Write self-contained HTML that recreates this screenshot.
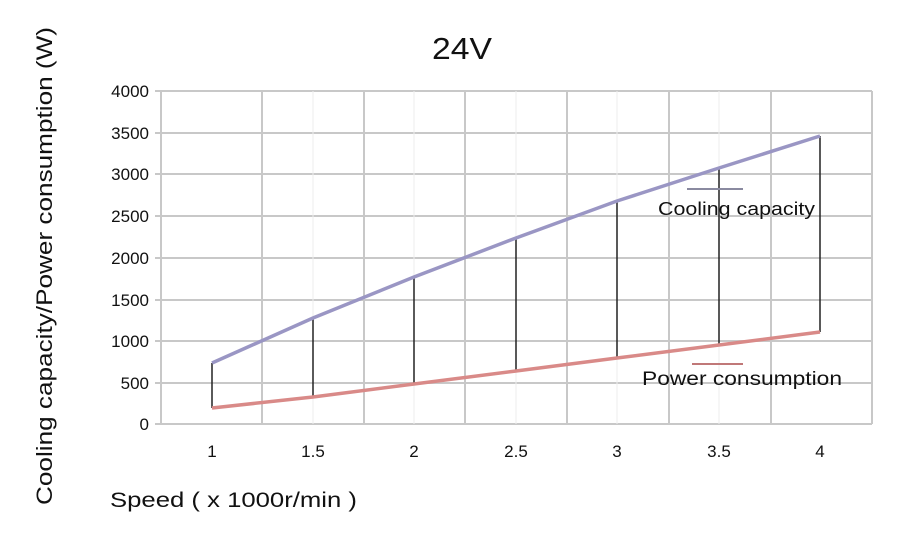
<!DOCTYPE html>
<html><head><style>body{margin:0;background:#fff}svg{display:block}</style></head><body>
<svg width="900" height="541" xmlns="http://www.w3.org/2000/svg" font-family="Liberation Sans, sans-serif">
<rect width="900" height="541" fill="#fff"/>
<g stroke="#c8c8c8" stroke-width="2">
<line x1="155" y1="91" x2="872" y2="91"/><line x1="155" y1="133" x2="872" y2="133"/><line x1="155" y1="174" x2="872" y2="174"/><line x1="155" y1="216" x2="872" y2="216"/><line x1="155" y1="258" x2="872" y2="258"/><line x1="155" y1="300" x2="872" y2="300"/><line x1="155" y1="341" x2="872" y2="341"/><line x1="155" y1="383" x2="872" y2="383"/><line x1="155" y1="424" x2="872" y2="424"/>
<line x1="161" y1="91" x2="161" y2="424"/><line x1="262" y1="91" x2="262" y2="424"/><line x1="364" y1="91" x2="364" y2="424"/><line x1="465" y1="91" x2="465" y2="424"/><line x1="567" y1="91" x2="567" y2="424"/><line x1="669" y1="91" x2="669" y2="424"/><line x1="771" y1="91" x2="771" y2="424"/><line x1="872" y1="91" x2="872" y2="424"/>
</g>
<g stroke="#eee" stroke-width="1"><line x1="313" y1="91" x2="313" y2="424"/><line x1="414" y1="91" x2="414" y2="424"/><line x1="516" y1="91" x2="516" y2="424"/><line x1="617" y1="91" x2="617" y2="424"/><line x1="719" y1="91" x2="719" y2="424"/></g>
<g stroke="#222" stroke-width="1.5">
<line x1="212" y1="363" x2="212" y2="408"/><line x1="313" y1="318" x2="313" y2="397"/><line x1="414" y1="277" x2="414" y2="384"/><line x1="516" y1="238" x2="516" y2="371"/><line x1="617" y1="201" x2="617" y2="358"/><line x1="719" y1="168" x2="719" y2="345"/><line x1="820" y1="136" x2="820" y2="332"/>
</g>
<polyline fill="none" stroke="#9a96c4" stroke-width="3.5" points="212,363 313,318 414,277 516,238 617,201 719,168 820,136"/>
<polyline fill="none" stroke="#d98a88" stroke-width="3.5" points="212,408 313,397 414,384 516,371 617,358 719,345 820,332"/>
<line x1="687" y1="189" x2="743" y2="189" stroke="#8a8aa0" stroke-width="2"/>
<line x1="692" y1="364" x2="743" y2="364" stroke="#c07878" stroke-width="2"/>
<text x="658" y="215" font-size="18" fill="#111" textLength="157" lengthAdjust="spacingAndGlyphs">Cooling capacity</text>
<text x="642" y="385" font-size="19" fill="#111" textLength="200" lengthAdjust="spacingAndGlyphs">Power consumption</text>
<g font-size="17" fill="#111" text-anchor="end">
<text x="149" y="97">4000</text><text x="149" y="139">3500</text><text x="149" y="180">3000</text><text x="149" y="222">2500</text><text x="149" y="264">2000</text><text x="149" y="306">1500</text><text x="149" y="347">1000</text><text x="149" y="389">500</text><text x="149" y="430">0</text>
</g>
<g font-size="17" fill="#111" text-anchor="middle">
<text x="212" y="457">1</text><text x="313" y="457">1.5</text><text x="414" y="457">2</text><text x="516" y="457">2.5</text><text x="617" y="457">3</text><text x="719" y="457">3.5</text><text x="820" y="457">4</text>
</g>
<text x="432" y="59" font-size="31" fill="#111" textLength="60" lengthAdjust="spacingAndGlyphs">24V</text>
<text x="110" y="507" font-size="21" fill="#111" textLength="247" lengthAdjust="spacingAndGlyphs">Speed ( x 1000r/min )</text>
<text transform="translate(52,505) rotate(-90)" font-size="22" fill="#111" textLength="478" lengthAdjust="spacingAndGlyphs">Cooling capacity/Power consumption (W)</text>
</svg>
</body></html>
